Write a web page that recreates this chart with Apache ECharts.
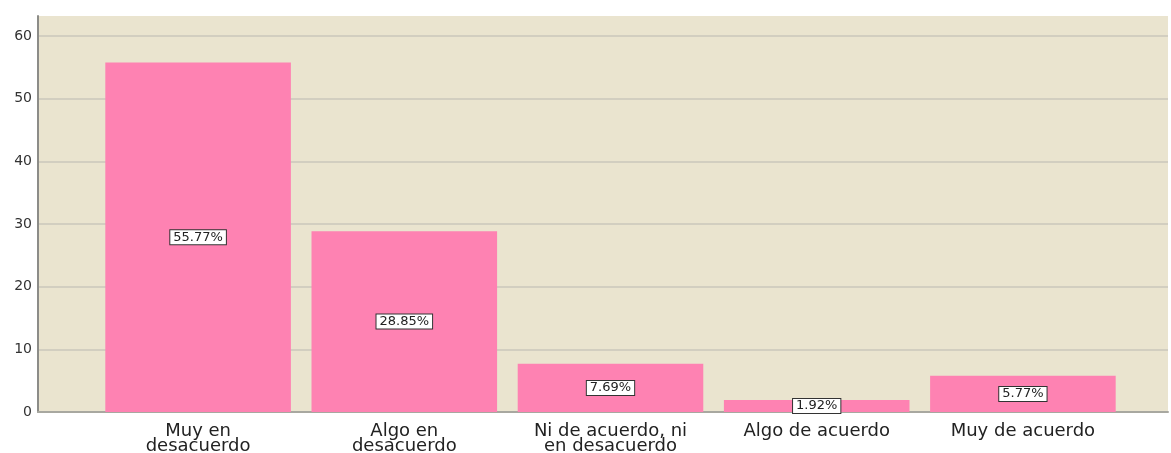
<!DOCTYPE html>
<html>
<head>
<meta charset="utf-8">
<script src="https://cdn.jsdelivr.net/npm/echarts@6/dist/echarts.min.js"></script>
<style>
  html, body { margin: 0; padding: 0; background: #fff; }
  #chart { width: 1171px; height: 453px; }
</style>
</head>
<body>
<div id="chart"></div>
<script>
// categories and percentages
const categories = [
  'Muy en\ndesacuerdo',
  'Algo en\ndesacuerdo',
  'Ni de acuerdo, ni\nen desacuerdo',
  'Algo de acuerdo',
  'Muy de acuerdo'
]
const percentData = [55.77, 28.85, 7.69, 1.92, 5.77]
const yMax = 63.2

const chart = echarts.init(document.getElementById('chart'))

chart.setOption({
  animation: false,
  grid: [
    {
      left: 38, right: 3, top: 16, bottom: 41,
      show: true, backgroundColor: '#eae4cf', borderWidth: 0,
      outerBoundsMode: 'none'
    },
    { left: 95, right: 45, top: 16, bottom: 41, outerBoundsMode: 'none' }
  ],
  xAxis: [
    {
      gridIndex: 0,
      type: 'value',
      min: 0,
      max: 1,
      axisLine: { show: true, onZero: false, lineStyle: { color: '#a8a8a0', width: 2 } },
      axisTick: { show: false },
      axisLabel: { show: false },
      splitLine: { show: false }
    },
    {
      gridIndex: 1,
      type: 'category',
      data: categories,
      axisLine: { show: false },
      axisTick: { show: false },
      axisLabel: {
        color: '#222',
        fontFamily: 'DejaVu Sans',
        fontSize: 18,
        lineHeight: 15,
        margin: 12,
        interval: 0
      }
    }
  ],
  yAxis: [
    {
      gridIndex: 0,
      type: 'value',
      min: 0,
      max: yMax,
      interval: 10,
      axisLine: { show: true, lineStyle: { color: '#8c8c88', width: 2 } },
      axisTick: { show: false },
      axisLabel: {
        showMaxLabel: false,
        color: '#333',
        fontFamily: 'DejaVu Sans',
        fontSize: 14,
        margin: 6
      },
      splitLine: { showMaxLine: false, lineStyle: { color: '#d2cec0', width: 2 } }
    },
    {
      gridIndex: 1,
      type: 'value',
      min: 0,
      max: yMax,
      show: false
    }
  ],
  series: [{
    type: 'bar',
    xAxisIndex: 1,
    yAxisIndex: 1,
    data: percentData,
    barCategoryGap: '10%',
    itemStyle: { color: '#fe82b2' },
    label: {
      show: true,
      position: 'inside',
      formatter: (p) => p.value.toFixed(2) + '%',
      color: '#222',
      fontFamily: 'DejaVu Sans',
      fontSize: 13,
      backgroundColor: '#fff',
      borderColor: '#333',
      borderWidth: 1,
      padding: [1, 3, 0, 3]
    }
  }]
})
</script>
</body>
</html>
